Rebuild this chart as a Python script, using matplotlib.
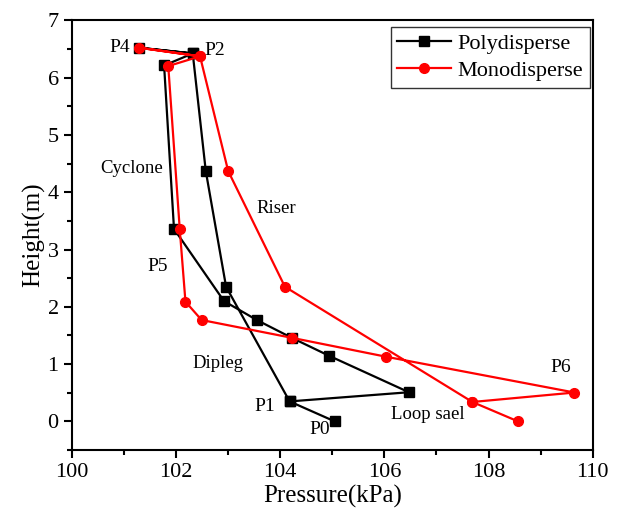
import matplotlib
matplotlib.use('Agg')
from matplotlib import pyplot as plt
from matplotlib.ticker import MultipleLocator

plt.rcParams['font.family'] = ['Liberation Serif', 'DejaVu Serif']

# Polydisperse loop: P0 -> P1 -> riser -> P2 -> P4 -> cyclone -> P5 -> dipleg -> loop seal -> P1
poly_p = [105.05, 104.18, 102.96, 102.57, 102.32, 101.29, 102.32, 101.77, 101.96,
          102.92, 103.55, 104.22, 104.94, 106.47, 104.18]
poly_h = [0.0, 0.35, 2.35, 4.37, 6.42, 6.52, 6.42, 6.21, 3.36,
          2.10, 1.77, 1.46, 1.145, 0.51, 0.35]

mono_p = [108.57, 107.69, 104.09, 103.0, 102.46, 101.29, 102.46, 101.85, 102.07,
          102.18, 102.49, 104.22, 106.03, 109.65, 107.69]
mono_h = [0.0, 0.34, 2.35, 4.37, 6.37, 6.52, 6.37, 6.2, 3.36,
          2.09, 1.77, 1.46, 1.13, 0.505, 0.34]

labels = ['P4', 'P2', 'Cyclone', 'Riser', 'P5', 'Dipleg', 'P1', 'P0', 'Loop sael', 'P6']
label_p = [100.92, 102.74, 101.15, 103.93, 101.65, 102.80, 103.70, 104.76, 106.83, 109.39]
label_h = [6.53, 6.48, 4.42, 3.72, 2.71, 1.02, 0.27, -0.14, 0.13, 0.94]
label_size = [14, 14, 13.5, 13.5, 14, 13.5, 14, 14, 13.5, 14]

fig = plt.figure(figsize=(6.2, 5.18), dpi=100)
ax = fig.add_axes([0.116, 0.131, 0.840, 0.830])

ax.plot(poly_p, poly_h, color='black', marker='s', markersize=6.5, lw=1.6, label='Polydisperse')
ax.plot(mono_p, mono_h, color='red', marker='o', markersize=7, lw=1.6, label='Monodisperse')

for t, x, y, s in zip(labels, label_p, label_h, label_size):
    ax.text(x, y, t, fontsize=s, ha='center', va='center')

ax.set_xlim(100, 110)
ax.set_ylim(-0.5, 7)
ax.xaxis.set_major_locator(MultipleLocator(2))
ax.xaxis.set_minor_locator(MultipleLocator(1))
ax.yaxis.set_major_locator(MultipleLocator(1))
ax.yaxis.set_minor_locator(MultipleLocator(0.5))
ax.tick_params(which='both', direction='out', top=False, right=False, labelsize=16, width=1.5)
ax.tick_params(which='major', length=6)
ax.tick_params(which='minor', length=3.5)
for sp in ax.spines.values():
    sp.set_linewidth(1.5)

ax.set_xlabel('Pressure(kPa)', fontsize=18, labelpad=2)
ax.set_ylabel('Height(m)', fontsize=18, labelpad=2)

leg = ax.legend(loc='upper right', fontsize=16, frameon=True, fancybox=False,
                edgecolor='black', handlelength=2.4, borderpad=0.3, labelspacing=0.3,
                handletextpad=0.3, borderaxespad=0.0, bbox_to_anchor=(0.994, 0.985))
leg.get_frame().set_linewidth(1.0)

fig.savefig('out.png', dpi=100)
